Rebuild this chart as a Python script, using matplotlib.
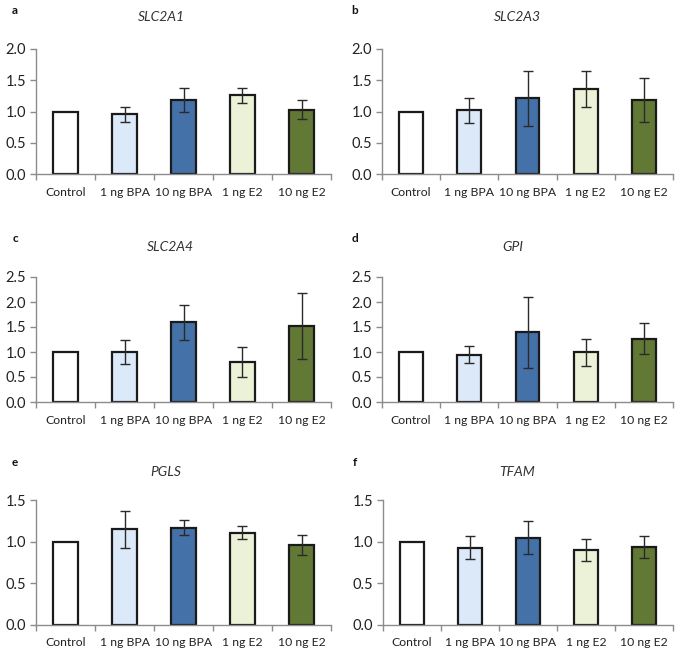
import numpy as np
import matplotlib
matplotlib.use('Agg')
import matplotlib.pyplot as plt
from matplotlib.ticker import FixedLocator, MultipleLocator

plt.rcParams['font.family'] = ['Lato', 'DejaVu Sans']

# data
groups = ['Control', '1 ng BPA', '10 ng BPA', '1 ng E2', '10 ng E2']
genes = ['SLC2A1', 'SLC2A3', 'SLC2A4', 'GPI', 'PGLS', 'TFAM']
letters = ['a', 'b', 'c', 'd', 'e', 'f']

slc2a1 = [1.00, 0.96, 1.19, 1.26, 1.03]
slc2a1_err = [0.0, 0.12, 0.19, 0.12, 0.155]
slc2a3 = [1.00, 1.02, 1.21, 1.36, 1.18]
slc2a3_err = [0.0, 0.20, 0.44, 0.29, 0.35]
slc2a4 = [1.00, 1.01, 1.60, 0.80, 1.53]
slc2a4_err = [0.0, 0.24, 0.35, 0.30, 0.66]
gpi = [1.00, 0.95, 1.40, 1.00, 1.27]
gpi_err = [0.0, 0.17, 0.71, 0.27, 0.31]
pgls = [1.00, 1.15, 1.17, 1.11, 0.96]
pgls_err = [0.0, 0.22, 0.09, 0.075, 0.12]
tfam = [1.00, 0.93, 1.05, 0.90, 0.94]
tfam_err = [0.0, 0.14, 0.20, 0.13, 0.13]

values = [slc2a1, slc2a3, slc2a4, gpi, pgls, tfam]
errors = [slc2a1_err, slc2a3_err, slc2a4_err, gpi_err, pgls_err, tfam_err]
ymax = [2.0, 2.0, 2.5, 2.5, 1.5, 1.5]

colors = ['#FFFFFF', '#DCE9F8', '#4472A8', '#EBF2D8', '#627935']

W, H = 685, 654
fig = plt.figure(figsize=(W/100., H/100.), dpi=100)

# axes boxes in pixels: left, right, top, bottom
boxes = [(36, 331, 49, 174), (382, 673, 49, 174),
         (36, 331, 277, 402), (382, 673, 277, 402),
         (36, 331, 500, 625), (383, 673, 500, 625)]
title_x = [161, 517, 170, 513, 166, 517]
title_y = [17, 17, 247, 247, 472, 472]
letter_xy = [(15, 11), (355, 11), (15, 238), (355, 238), (15, 462), (355, 462)]

axcol = '#8C8C8C'
for i in range(6):
    l, r, t, b = boxes[i]
    ax = fig.add_axes([l/W, 1-b/H, (r-l)/W, (b-t)/H])
    x = np.arange(len(groups))
    ax.bar(x, values[i], width=0.41, color=colors, edgecolor='#1a1a1a',
           linewidth=1.6, zorder=2)
    err = np.array(errors[i])
    ax.errorbar(x[1:], np.array(values[i])[1:], yerr=err[1:], fmt='none',
                ecolor='#2a2a2a', elinewidth=1.0, capsize=3.5, capthick=1.0,
                zorder=3)
    ax.set_xlim(-0.5, len(groups)-0.5)
    ax.set_ylim(0, ymax[i])
    ax.yaxis.set_major_locator(MultipleLocator(0.5))
    ax.set_yticklabels(['%.1f' % v for v in ax.get_yticks()])
    ax.set_xticks(x)
    ax.set_xticklabels(groups)
    ax.xaxis.set_minor_locator(FixedLocator(np.arange(-0.5, len(groups), 1.0)))
    ax.tick_params(axis='x', which='major', length=0, pad=9, labelsize=8.8,
                   colors='#222222')
    ax.tick_params(axis='x', which='minor', length=4, color=axcol, width=1)
    ax.tick_params(axis='y', length=4, color=axcol, width=1, labelsize=10.5,
                   labelcolor='#222222', pad=3)
    for s in ['top', 'right']:
        ax.spines[s].set_visible(False)
    for s in ['left', 'bottom']:
        ax.spines[s].set_color(axcol)
        ax.spines[s].set_linewidth(1.0)
    fig.text(title_x[i]/W, 1-title_y[i]/H, genes[i], ha='center', va='center',
             fontsize=10, style='italic', color='#333333')
    fig.text(letter_xy[i][0]/W, 1-letter_xy[i][1]/H, letters[i], ha='center',
             va='center', fontsize=8.5, fontweight='bold', color='#111111')

plt.savefig('out.png', dpi=100)
